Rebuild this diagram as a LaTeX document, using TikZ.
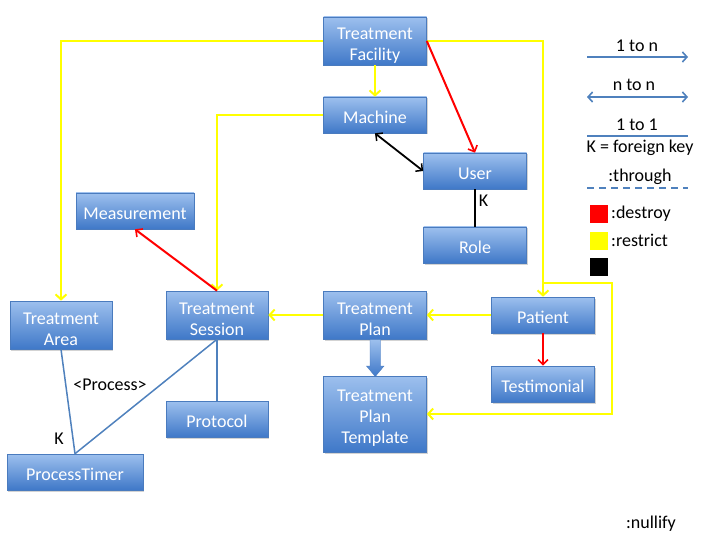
\documentclass[tikz,border=0pt]{standalone}
\usepackage{fontspec}
\setmainfont{Carlito}
\usetikzlibrary{arrows.meta,shadows}
\definecolor{entT}{HTML}{9DC0EE}
\definecolor{entBot}{HTML}{3F78C8}
\definecolor{entB}{HTML}{4A7BBE}
\definecolor{lblue}{HTML}{4F81BD}
\definecolor{yel}{HTML}{FFFF00}
\tikzset{
  ent/.style={draw=entB, line width=0.6pt, top color=entT, bottom color=entBot, text=white,
    font=\fontsize{18}{21}\selectfont, align=center, inner sep=0pt,
    minimum width=103pt, minimum height=36pt,
    execute at begin node={\rule{0pt}{16.5pt}},
    drop shadow={shadow xshift=1pt, shadow yshift=-1.5pt, opacity=0.35}},
  mltwo/.style={minimum height=48pt, execute at begin node={\rule{0pt}{41pt}}},
  mlthree/.style={minimum height=76pt, execute at begin node={\rule{0pt}{62pt}}},
  yl/.style={draw=yel, line width=2.6pt, -{Straight Barb[length=5pt,width=11pt,line width=2pt]}},
  rd/.style={draw=red, line width=2pt, -{Straight Barb[length=5pt,width=10pt,line width=1.6pt]}},
  bk/.style={draw=black, line width=1.8pt, {Straight Barb[length=5pt,width=10pt,line width=1.5pt]}-{Straight Barb[length=5pt,width=10pt,line width=1.5pt]}},
  bl/.style={draw=lblue, line width=1.5pt},
  lg/.style={draw=lblue, line width=2pt},
  lgtip/.tip={Straight Barb[length=4.5pt,width=10pt,line width=1.6pt]},
  lbl/.style={font=\fontsize{18}{21}\selectfont, text=black, inner sep=0pt},
}
\begin{document}
\begin{tikzpicture}[x=1pt,y=-1pt]
\path[use as bounding box] (0,0) rectangle (720,540);
% nodes
\node[ent, mltwo] (tf) at (375,41) {Treatment\\Facility};
\node[ent] (mach) at (375,115) {Machine};
\node[ent] (user) at (475,171) {User};
\node[ent] (role) at (475,245) {Role};
\node[ent, minimum width=118pt] (meas) at (135,211) {Measurement};
\node[ent, mltwo, minimum width=102pt] (ta) at (61,325) {Treatment\\Area};
\node[ent, mltwo, minimum width=102pt] (ts) at (217,315) {Treatment\\Session};
\node[ent, mltwo] (tp) at (375,315) {Treatment\\Plan};
\node[ent] (pat) at (543,315) {Patient};
\node[ent] (test) at (543,384) {Testimonial};
\node[ent, mlthree] (tpt) at (375,414) {Treatment\\Plan\\Template};
\node[ent, minimum width=102pt] (prot) at (217,419) {Protocol};
\node[ent, minimum width=136pt] (pt) at (75,472) {ProcessTimer};
% yellow connectors
\draw[yl] (tf.west) -| (ta.north);
\draw[yl] (tf.south) -- (mach.north);
\draw[yl] (mach.west) -| (ts.north);
\draw[yl] (tf.east) -| (pat.north);
\coordinate (j1) at (543,283);
\coordinate (j2) at (612,283);
\draw[yl] (j1) -- (j2) |- (tpt.east);
\draw[yl] (tp.west) -- (ts.east);
\draw[yl] (pat.west) -- (tp.east);
% red connectors
\draw[rd] (tf.east) -- (user.north);
\draw[rd] (ts.north) -- (meas.south);
\draw[rd] (pat.south) -- (test.north);
% black
\draw[bk] (mach.south) -- (user.west);
\draw[black, line width=1.8pt] (user.south) -- node[lbl, right=3pt, pos=0.3] {K} (role.north);
% blue lines
\draw[bl] (ta.south) -- (pt.north);
\draw[bl] (ts.south) -- (pt.north);
\draw[bl] (ts.south) -- (prot.north);
\node[lbl] (proc) at (110,385) {<Process>};
\node[lbl] (kk) at (59,439) {K};
% fat arrow
\shade[top color=entT, bottom color=entBot, draw=entB, line width=0.4pt]
  (370,339.5) -- (380.5,339.5) -- (380.5,366) -- (384,366) -- (375.25,376.5) -- (366.5,366) -- (370,366) -- cycle;
% legend
\node[lbl] (l1) at (637,46) {1 to n};
\coordinate (a1) at (587,57); \coordinate (b1) at (688,57);
\draw[lg, -{lgtip}] (a1) -- (b1);
\node[lbl] (l2) at (634,85) {n to n};
\coordinate (a2) at (587,97); \coordinate (b2) at (688,97);
\draw[lg, {lgtip}-{lgtip}] (a2) -- (b2);
\node[lbl] (l3) at (637,125) {1 to 1};
\coordinate (a3) at (587,136); \coordinate (b3) at (688,136);
\draw[lg] (a3) -- (b3);
\node[lbl] (l4) at (640,148) {K = foreign key};
\node[lbl] (l5) at (640,177) {:through};
\coordinate (a4) at (587,188); \coordinate (b4) at (688,188);
\draw[lg, dash pattern=on 7pt off 5pt] (a4) -- (b4);
\fill[red] (590,205) rectangle (608,223);
\node[lbl, anchor=west] (l6) at (611,214) {:destroy};
\fill[yel] (590,232) rectangle (608,250);
\node[lbl, anchor=west] (l7) at (611,240) {:restrict};
\fill[black] (590,258) rectangle (608,276);
\node[lbl] (l8) at (651,524) {:nullify};
\end{tikzpicture}
\end{document}
